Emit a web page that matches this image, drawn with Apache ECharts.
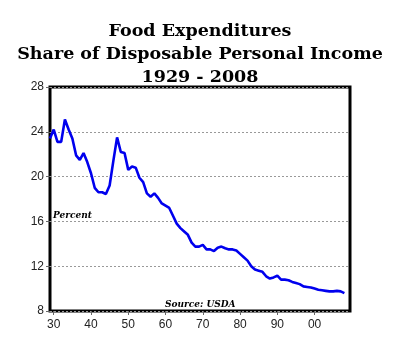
<!doctype html>
<html lang="en">
<head>
<meta charset="UTF-8">
<title>Food Expenditures</title>
<script src="https://cdn.jsdelivr.net/npm/echarts@6/dist/echarts.min.js"></script>
<style>
  html, body { margin: 0; padding: 0; background: #fff; }
  #main { width: 400px; height: 353px; }
</style>
</head>
<body>
<div id="main"></div>
<script>
// food spending as % of disposable income, 1929 - 2008
var firstYear = 1929;
var share = [
    23.4, 24.2, 23.1, 23.1, 25.1, 24.2, 23.4, 21.9, 21.5, 22.1,
    21.3, 20.3, 19.0, 18.6, 18.6, 18.45, 19.2, 21.4, 23.5, 22.2,
    22.1, 20.6, 20.9, 20.8, 19.9, 19.5, 18.5, 18.2, 18.5, 18.1,
    17.6, 17.4, 17.2, 16.5, 15.8, 15.4, 15.1, 14.8, 14.1, 13.75,
    13.75, 13.9, 13.5, 13.5, 13.35, 13.65, 13.75, 13.6, 13.5, 13.5,
    13.4, 13.1, 12.8, 12.5, 12.0, 11.7, 11.6, 11.5, 11.1, 10.9,
    11.0, 11.15, 10.8, 10.8, 10.75, 10.6, 10.5, 10.4, 10.2, 10.15,
    10.1, 10.0, 9.9, 9.85, 9.8, 9.75, 9.75, 9.8, 9.75, 9.6
];
var xTicks = [1930, 1940, 1950, 1960, 1970, 1980, 1990, 2000];
var titleLines = ['Food Expenditures', 'Share of Disposable Personal Income', '1929 - 2008'];

var points = share.map(function (v, i) { return [firstYear + i, v]; });

var headStyle = {
    fontFamily: 'DejaVu Serif',
    fontWeight: 'bold',
    fontSize: 17.5,
    color: '#000'
};
var noteStyle = {
    fontFamily: 'DejaVu Serif',
    fontStyle: 'italic',
    fontWeight: 'bold',
    fontSize: 9,
    color: '#000'
};

var titles = titleLines.map(function (t, i) {
    return { text: t, left: 'center', top: 22 + i * 23, padding: 0, textStyle: headStyle };
});
titles.push({ text: 'Percent', left: 53, top: 211, padding: 0, textStyle: noteStyle });
titles.push({ text: 'Source: USDA', left: 165, top: 300, padding: 0, textStyle: noteStyle });

var myChart = echarts.init(document.getElementById('main'));
var option = {
    animation: false,
    title: titles,
    grid: {
        left: 50,
        right: 50,
        top: 87,
        bottom: 42,
        show: true,
        borderColor: '#000',
        borderWidth: 3,
        backgroundColor: 'transparent'
    },
    xAxis: {
        type: 'value',
        min: firstYear,
        max: 2009.5,
        axisLine: { show: false },
        splitLine: { show: false },
        axisTick: {
            show: true,
            customValues: xTicks,
            length: 4,
            lineStyle: { color: '#666' }
        },
        axisLabel: {
            customValues: xTicks,
            margin: 8,
            fontFamily: 'Liberation Sans',
            fontSize: 12,
            color: '#222',
            formatter: function (v) { return String(v).slice(2); }
        }
    },
    yAxis: {
        type: 'value',
        min: 8,
        max: 28,
        interval: 4,
        axisLine: { show: false },
        axisTick: { show: true, length: 4, lineStyle: { color: '#666' } },
        axisLabel: {
            margin: 6,
            fontFamily: 'Liberation Sans',
            fontSize: 12,
            color: '#222'
        },
        splitLine: {
            show: true,
            lineStyle: { color: '#999', type: [2, 2], width: 1 }
        }
    },
    series: [
        {
            name: 'Food share',
            type: 'line',
            data: points,
            showSymbol: false,
            lineStyle: { color: '#0000ee', width: 2.6 },
            z: 3
        }
    ]
};
myChart.setOption(option);
</script>
</body>
</html>
